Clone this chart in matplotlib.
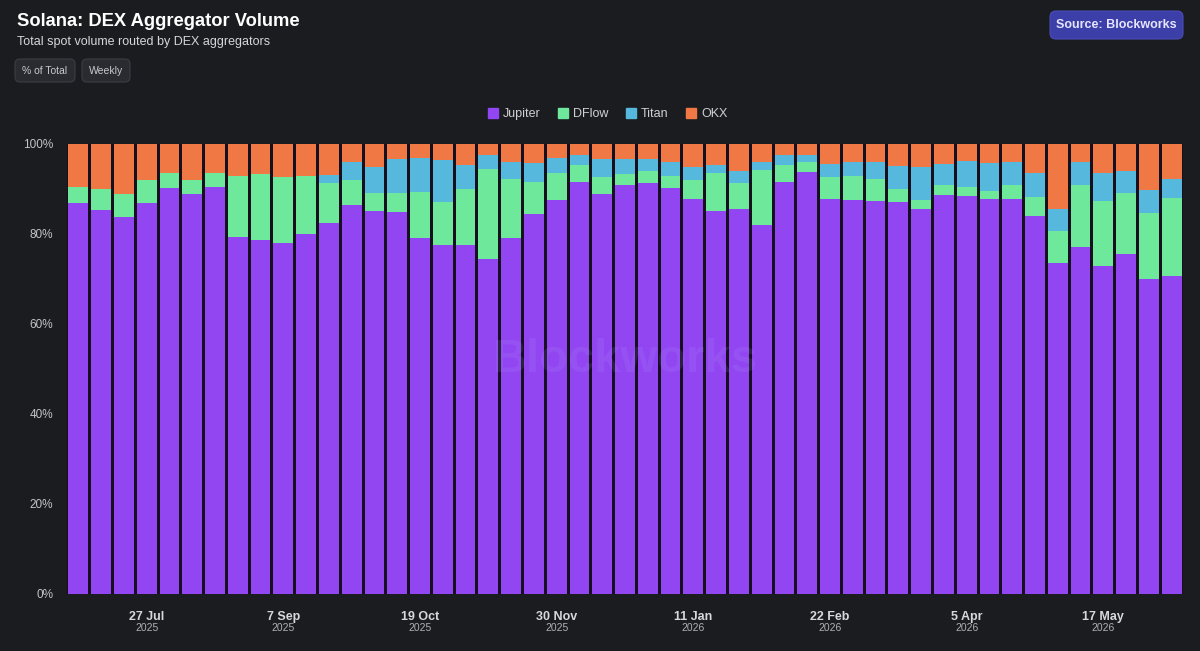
import matplotlib
matplotlib.use("Agg")
import matplotlib.pyplot as plt
import numpy as np
import pandas as pd
from matplotlib.patches import FancyBboxPatch
from matplotlib.lines import Line2D

plt.rcParams['font.family'] = ['Liberation Sans', 'DejaVu Sans']

# ---- data (share of weekly DEX aggregator volume, %) ----
weeks = pd.date_range("2025-07-06", periods=49, freq="7D")
jupiter = [86.8, 85.3, 83.8, 86.8, 90.2, 88.8, 90.4, 79.3, 78.7, 78.1, 80.0, 82.4, 86.4,
           85.1, 84.9, 79.1, 77.5, 77.6, 74.5, 79.1, 84.5, 87.5, 91.6, 89.0, 91.0, 91.3,
           90.2, 87.8, 85.1, 85.6, 81.9, 91.6, 93.8, 87.8, 87.5, 87.3, 87.1, 85.6, 88.7,
           88.4, 87.8, 87.8, 84.1, 73.6, 77.2, 73.0, 75.6, 70.1, 70.6]
dflow = [3.6, 4.7, 5.2, 5.3, 3.3, 3.1, 3.2, 13.7, 14.7, 14.5, 12.9, 9.0, 5.7,
         4.1, 4.3, 10.2, 9.6, 12.3, 20.0, 13.2, 7.0, 6.1, 3.8, 3.7, 2.3, 2.6,
         2.7, 4.1, 8.5, 5.8, 12.4, 3.8, 2.1, 4.9, 5.5, 5.0, 2.8, 2.0, 2.3,
         2.1, 1.8, 3.1, 4.2, 7.1, 13.7, 14.3, 13.6, 14.6, 17.5]
titan = [0, 0, 0, 0, 0, 0, 0, 0, 0, 0, 0, 1.8, 4.0,
         5.8, 7.5, 7.6, 9.3, 5.4, 3.0, 3.7, 4.3, 3.4, 2.1, 3.9, 3.4, 2.8,
         3.2, 3.1, 1.7, 2.7, 1.7, 2.2, 1.6, 2.9, 3.1, 3.7, 5.2, 7.2, 4.6,
         5.8, 6.2, 5.2, 5.2, 4.8, 5.0, 6.3, 4.7, 5.1, 4.1]
okx = [9.6, 10.0, 11.0, 7.9, 6.5, 8.1, 6.4, 7.0, 6.6, 7.4, 7.1, 6.8, 3.9,
       5.0, 3.3, 3.1, 3.6, 4.7, 2.5, 4.0, 4.2, 3.0, 2.5, 3.4, 3.3, 3.3,
       3.9, 5.0, 4.7, 5.9, 4.0, 2.4, 2.5, 4.4, 3.9, 4.0, 4.9, 5.2, 4.4,
       3.7, 4.2, 3.9, 6.5, 14.5, 4.1, 6.4, 6.1, 10.2, 7.8]
series_names = ["Jupiter", "DFlow", "Titan", "OKX"]
y_ticks = [0, 20, 40, 60, 80, 100]

colors = {"Jupiter": "#9146f2", "DFlow": "#6ee89a", "Titan": "#56b8dc", "OKX": "#f07844"}
BG = "#1b1c20"

W, H = 1200, 651
fig = plt.figure(figsize=(W / 100, H / 100), dpi=100, facecolor=BG)


def fx(px):
    return px / W


def fy(py):
    return 1 - py / H


ax = fig.add_axes([fx(67), fy(594), fx(1183) - fx(67), fy(144) - fy(594)])
ax.set_facecolor("#150f1e")

x = np.arange(len(weeks))
vals = [np.array(jupiter), np.array(dflow), np.array(titan), np.array(okx)]
bottom = np.zeros(len(weeks))
for name, v in zip(series_names, vals):
    ax.bar(x, v, bottom=bottom, width=0.87, color=colors[name], linewidth=0, zorder=2)
    bottom = bottom + v

ax.set_xlim(-0.5, len(weeks) - 0.5)
ax.set_ylim(0, 100)
for s in ax.spines.values():
    s.set_visible(False)
ax.set_yticks(y_ticks)
ax.set_yticklabels([f"{t}%" for t in y_ticks], color="#c4c4c8", fontsize=8.5)
ax.tick_params(axis="y", length=0, pad=10)
ax.tick_params(axis="x", length=0)

# x tick labels every 6 weeks
tick_idx = list(range(3, len(weeks), 6))
ax.set_xticks(tick_idx)
ax.set_xticklabels([f"{weeks[i].day} {weeks[i].strftime('%b')}" for i in tick_idx],
                   color="#d8d8dc", fontsize=9, fontweight="bold")
ax.tick_params(axis="x", pad=12)
for i in tick_idx:
    ax.text(i, -0.076, str(weeks[i].year), transform=ax.get_xaxis_transform(),
            ha="center", va="center", color="#b0b0b4", fontsize=7.5)

# watermark
ax.text(0.5, 0.52, "Blockworks", transform=ax.transAxes, ha="center", va="center",
        fontsize=34, fontweight="bold", color="#c0a8ff", alpha=0.12, zorder=3)

# titles
fig.text(fx(17), fy(22), "Solana: DEX Aggregator Volume", ha="left", va="center",
         color="#ffffff", fontsize=13.2, fontweight="bold")
fig.text(fx(17), fy(42), "Total spot volume routed by DEX aggregators", ha="left",
         va="center", color="#d6d6da", fontsize=9)


def button(x0, y0, x1, y1, text, fc, ec, tc, fs, bold=False, r=5):
    p = FancyBboxPatch((fx(x0), fy(y1)), fx(x1) - fx(x0), fy(y0) - fy(y1),
                       boxstyle=f"round,pad=0,rounding_size={r / W}",
                       transform=fig.transFigure, facecolor=fc, edgecolor=ec,
                       linewidth=0.8, mutation_aspect=W / H)
    fig.patches.append(p)
    fig.text(fx((x0 + x1) / 2), fy((y0 + y1) / 2), text, ha="center", va="center",
             color=tc, fontsize=fs, fontweight="bold" if bold else "normal")


button(15, 59, 75, 82, "% of Total", "#2a2b30", "#3c3d43", "#c8c8cc", 7.5)
button(82, 59, 130, 82, "Weekly", "#2a2b30", "#3c3d43", "#c8c8cc", 7.5)
button(1050, 11, 1183, 39, "Source: Blockworks", "#3c3fa8", "#4a4db8", "#e6e4ff", 9, bold=True, r=6)

# legend
handles = [Line2D([0], [0], marker="s", linestyle="none", markersize=7.5,
                  markerfacecolor=colors[n], markeredgecolor=colors[n]) for n in series_names]
fig.legend(handles, series_names, loc="center", bbox_to_anchor=(fx(607), fy(114)),
           ncol=4, frameon=False, fontsize=9, labelcolor="#d0d0d4",
           handletextpad=0.3, columnspacing=1.3, handlelength=1.0)

fig.savefig("out.png", dpi=100, facecolor=BG)
